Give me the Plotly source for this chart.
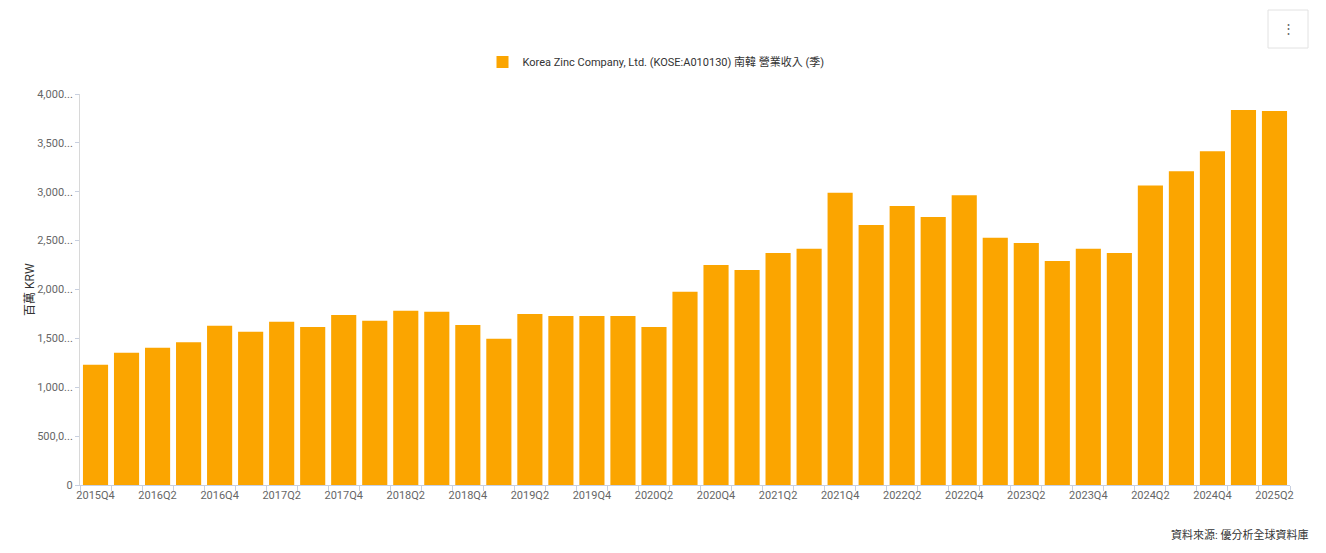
import plotly.graph_objects as go

quarters = [
    "2015Q4",
    "2016Q1", "2016Q2", "2016Q3", "2016Q4",
    "2017Q1", "2017Q2", "2017Q3", "2017Q4",
    "2018Q1", "2018Q2", "2018Q3", "2018Q4",
    "2019Q1", "2019Q2", "2019Q3", "2019Q4",
    "2020Q1", "2020Q2", "2020Q3", "2020Q4",
    "2021Q1", "2021Q2", "2021Q3", "2021Q4",
    "2022Q1", "2022Q2", "2022Q3", "2022Q4",
    "2023Q1", "2023Q2", "2023Q3", "2023Q4",
    "2024Q1", "2024Q2", "2024Q3", "2024Q4",
    "2025Q1", "2025Q2",
]

# 營業收入 (百萬 KRW)
revenue = [
    1231000,
    1353000, 1405000, 1460000, 1630000,
    1568000, 1671000, 1616000, 1739000,
    1681000, 1783000, 1773000, 1637000,
    1497000, 1749000, 1729000, 1729000,
    1729000, 1616000, 1978000, 2251000,
    2199000, 2373000, 2418000, 2990000,
    2660000, 2854000, 2742000, 2964000,
    2530000, 2476000, 2292000, 2418000,
    2373000, 3064000, 3209000, 3414000,
    3836000, 3826000,
]

y_tick_vals = [0, 500000, 1000000, 1500000, 2000000, 2500000, 3000000, 3500000, 4000000]
y_tick_text = ["0", "500,0...", "1,000...", "1,500...", "2,000...", "2,500...", "3,000...", "3,500...", "4,000..."]

series_name = "Korea Zinc Company, Ltd. (KOSE:A010130) 南韓 營業收入 (季)"
source_text = "資料來源: 優分析全球資料庫"
y_title = "百萬 KRW"

x_tick_text = [q if i % 2 == 0 else "" for i, q in enumerate(quarters)]

# page body has an 8px margin; positions below are screen pixels
OFF = 8
W, H = 1326, 553
L, R, T, B = 80 - OFF, 1290 - OFF, 94 - OFF, 485 - OFF


def px(sx):
    return (sx - OFF - L) / (R - L)


def py(sy):
    return (B - (sy - OFF)) / (B - T)


fig = go.Figure()
fig.add_trace(go.Bar(
    x=quarters,
    y=revenue,
    name=series_name,
    marker=dict(color="#FBA500", line=dict(width=0)),
    showlegend=True,
))

font_family = "Roboto, 'Noto Sans CJK TC', sans-serif"

fig.update_layout(
    width=W,
    height=H,
    paper_bgcolor="white",
    plot_bgcolor="white",
    margin=dict(l=L, r=W - R, t=T, b=H - B),
    bargap=0.19,
    font=dict(family=font_family, size=11, color="#555"),
    showlegend=True,
    legend=dict(
        orientation="h",
        x=px(656), xanchor="center",
        y=py(62), yanchor="middle",
        font=dict(size=11, color="#333"),
        itemsizing="constant",
    ),
    xaxis=dict(
        type="category",
        tickmode="array",
        tickvals=quarters,
        ticktext=x_tick_text,
        tickangle=0,
        tickson="boundaries",
        ticks="outside",
        ticklen=5,
        tickcolor="#C8D0E0",
        showline=True,
        linecolor="#C8D0E0",
        linewidth=1,
        showgrid=False,
        tickfont=dict(size=11, color="#666"),
        range=[-0.5, len(quarters) - 0.5],
    ),
    yaxis=dict(
        range=[0, 4000000],
        tickmode="array",
        tickvals=y_tick_vals,
        ticktext=y_tick_text,
        ticks="outside",
        ticklen=4,
        tickcolor="#C8D0E0",
        showline=True,
        linecolor="#D8D8D8",
        linewidth=1,
        showgrid=False,
        zeroline=False,
        tickfont=dict(size=11, color="#666"),
    ),
    annotations=[
        dict(
            text=y_title,
            xref="paper", yref="paper",
            x=px(30), y=py(290),
            xanchor="center", yanchor="middle",
            textangle=-90,
            showarrow=False,
            font=dict(size=12, color="#333"),
        ),
        dict(
            text=source_text,
            xref="paper", yref="paper",
            x=px(1310), y=py(535),
            xanchor="right", yanchor="middle",
            showarrow=False,
            font=dict(size=11, color="#333"),
        ),
        dict(
            text="⋮",
            xref="paper", yref="paper",
            x=px(1288), y=py(29),
            xanchor="center", yanchor="middle",
            showarrow=False,
            font=dict(size=13, color="#666"),
        ),
    ],
    shapes=[
        dict(
            type="rect",
            xref="paper", yref="paper",
            x0=px(1268), x1=px(1308),
            y0=py(48), y1=py(10),
            line=dict(color="#E2E2E2", width=1),
            fillcolor="white",
        ),
        dict(
            type="line",
            xref="paper", yref="paper",
            x0=px(1323), x1=px(1323),
            y0=py(553), y1=py(0),
            line=dict(color="#E6E6E6", width=1),
        ),
    ],
)

fig.write_html("out.html")
